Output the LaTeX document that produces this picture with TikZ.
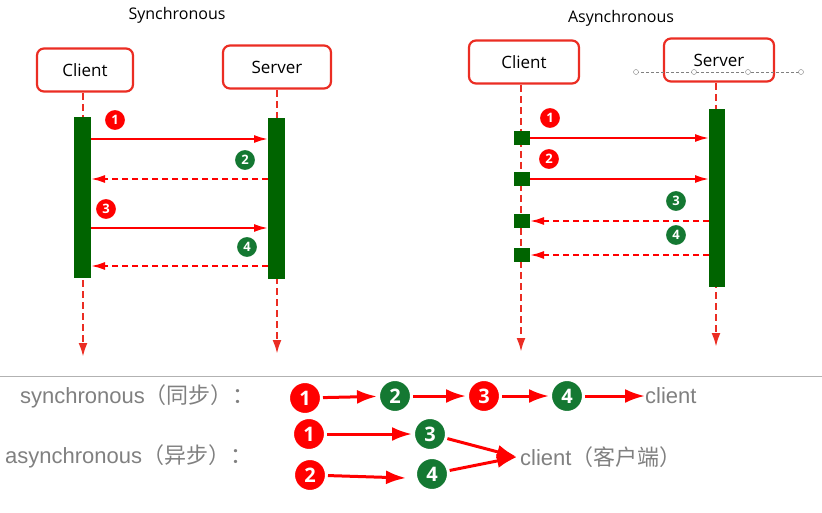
\documentclass[tikz,border=0pt]{standalone}
\usepackage{fontspec}
\setmainfont{Open Sans}
\newfontfamily\grayfont{Liberation Sans}
\newfontfamily\cjk{Noto Sans CJK SC}
\usetikzlibrary{arrows.meta,positioning}
\definecolor{boxred}{RGB}{235,45,35}
\definecolor{bargreen}{RGB}{0,100,0}
\definecolor{numgreen}{RGB}{20,120,50}
\tikzset{
	actor/.style={draw=boxred,line width=2.2pt,rounded corners=7pt,fill=white,minimum width=96pt,minimum height=43pt,font=\fontsize{17}{20}\selectfont},
	life/.style={boxred,dashed,dash pattern=on 7pt off 4pt,line width=2.4pt,-{Latex[length=14pt,width=9pt]}},
	msg/.style={red,line width=2pt,-{Latex[length=14pt,width=8pt]}},
	reply/.style={msg,dash pattern=on 6pt off 4pt},
	num/.style={circle,fill=#1,draw=white,line width=2pt,text=white,font=\bfseries\fontsize{13}{15}\selectfont,inner sep=0pt,minimum size=22pt},
	bignum/.style={num=#1,font=\bfseries\fontsize{20}{22}\selectfont,minimum size=33pt,line width=3pt},
	flow/.style={red,line width=3pt,-{Latex[length=20pt,width=14pt]}},
	graytext/.style={text=gray,font=\grayfont\fontsize{22}{24}\selectfont,inner sep=0pt}
}
\begin{document}
\begin{tikzpicture}[x=1pt,y=-1pt]
	\useasboundingbox (0,0) rectangle (822,513);
	
%synchronous
	\node[font=\fontsize{16}{18}\selectfont] (stitle) at (177,15) {Synchronous};
	\node[actor] (sc) at (85,70) {Client};
	\node[actor,minimum width=108pt] (ss) at (277,67) {Server};
	\coordinate (scend) at (83,357);
	\coordinate (ssend) at (277,354);
	\draw[life] (83,93) -- (scend);
	\draw[life] (277,90) -- (ssend);
	\fill[bargreen] (74,117) rectangle (91,278);
	\fill[bargreen] (268,118) rectangle (285,279);
	\foreach \y/\kind/\n/\col/\lx in {139/msg/1/red/115,179/reply/2/numgreen/245,228/msg/3/red/106,266/reply/4/numgreen/247}
	{
		\coordinate (cl\n) at (91,\y);
		\coordinate (sv\n) at (268,\y);
		\node[num=\col] (sn\n) at (\lx,\y-19) {\n};
	}
	\draw[msg] (cl1) -- (sv1);
	\draw[reply] (sv2) -- (cl2);
	\draw[msg] (cl3) -- (sv3);
	\draw[reply] (sv4) -- (cl4);
	
%asynchronous
	\node[font=\fontsize{16}{18}\selectfont] (atitle) at (621,18) {Asynchronous};
	\node[actor,minimum width=110pt] (ac) at (524,62) {Client};
	\node[actor,minimum width=110pt] (as) at (719,60) {Server};
	\draw[gray,densely dashed,thin] (636,72) -- (801,72);
	\foreach \x in {636,694,748,801}
	{\draw[gray,fill=white] (\x,72) circle (2.5pt);}
	\coordinate (acend) at (521,352);
	\coordinate (asend) at (716,347);
	\draw[life] (521,85) -- (acend);
	\draw[life] (716,83) -- (asend);
	\fill[bargreen] (709,109) rectangle (725,287);
	\foreach \y/\n/\col/\lx in {138/1/red/550,179/2/red/549,221/3/numgreen/676,255/4/numgreen/676}
	{
		\fill[bargreen] (514,\y-7) rectangle (530,\y+7);
		\coordinate (acl\n) at (530,\y);
		\coordinate (asv\n) at (709,\y);
		\node[num=\col] (an\n) at (\lx,\y-20) {\n};
	}
	\draw[msg] (acl1) -- (asv1);
	\draw[msg] (acl2) -- (asv2);
	\draw[reply] (asv3) -- (acl3);
	\draw[reply] (asv4) -- (acl4);
	
	\draw[gray!60] (0,376) -- (822,376);
	
%legend
	\node[graytext,anchor=west] (sync) at (20,396) {synchronous{\cjk（同步）：}};
	\node[bignum=red] (b1) at (305,398) {1};
	\node[bignum=numgreen] (b2) at (395,396) {2};
	\node[bignum=red] (b3) at (484,396) {3};
	\node[bignum=numgreen] (b4) at (567,396) {4};
	\node[graytext,anchor=west] (bc) at (645,396) {client};
	\draw[flow] (b1) -- (b2);
	\draw[flow] (b2) -- (b3);
	\draw[flow] (b3) -- (b4);
	\draw[flow] (b4) -- (bc);
	
	\node[graytext,anchor=west] (async) at (5,456) {asynchronous{\cjk（异步）：}};
	\node[bignum=red] (c1) at (309,434) {1};
	\node[bignum=numgreen] (c3) at (430,434) {3};
	\node[bignum=red] (c2) at (310,475) {2};
	\node[bignum=numgreen] (c4) at (432,474) {4};
	\node[graytext,anchor=west] (ac2) at (520,457) {client{\cjk（客户端）}};
	\coordinate (c2end) at (406,478);
	\draw[flow] (c1) -- (c3);
	\draw[flow] (c2) -- (c2end);
	\draw[flow] (c3) -- ([xshift=-3pt]ac2.west);
	\draw[flow] (c4) -- ([xshift=-3pt]ac2.west);
\end{tikzpicture}
\end{document}
